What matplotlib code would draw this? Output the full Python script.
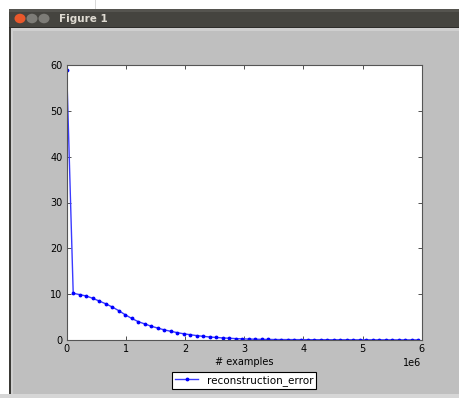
import matplotlib
matplotlib.use("Agg")
import matplotlib.pyplot as plt
from matplotlib.patches import Rectangle, Circle

# training progress: examples seen (millions) vs reconstruction error
step = 0.11
n_points = 55
examples = [k * step * 1e6 for k in range(n_points)]
recon_error = [59.0, 10.2, 9.9, 9.6, 9.1, 8.5, 7.9, 7.2, 6.4, 5.5,
               4.7, 4.0, 3.5, 3.0, 2.6, 2.2, 1.9, 1.6, 1.35, 1.15,
               0.95, 0.8, 0.65, 0.55, 0.45, 0.38, 0.3, 0.25, 0.2, 0.17,
               0.14, 0.12, 0.1, 0.09, 0.085, 0.08, 0.075, 0.07, 0.065, 0.06,
               0.055, 0.05, 0.048, 0.045, 0.042, 0.04, 0.038, 0.036, 0.034, 0.032,
               0.03, 0.028, 0.026, 0.025, 0.024]

W, H = 459, 398
fig = plt.figure(figsize=(W / 100, H / 100), dpi=100, facecolor="#bfbfbf")


def box(x0, y0, x1, y1, color):
    # pixel coords (top-left origin) -> figure fraction
    fig.add_artist(Rectangle((x0 / W, 1 - y1 / H), (x1 - x0) / W, (y1 - y0) / H,
                             transform=fig.transFigure, facecolor=color,
                             edgecolor="none", zorder=-5))


# fake window chrome
box(0, 0, W, 9, "white")
box(0, 0, 9, H, "white")
box(95, 0, 96, 9, "#d8d8d8")
box(9, 9, W, 28, "#45443f")
box(9, 9, W, 12, "#55544f")
box(9, 27, W, 28, "#2e2d2a")
box(9, 28, 11, H, "#3a3935")
box(11, 28, W, 31, "#cfcfcf")
box(11, 28, 13, H, "#cfcfcf")
box(0, 394, W, H, "#d6d6d6")
for cx, col in [(20, "#e9582b"), (32, "#7d7c77"), (44, "#7d7c77")]:
    fig.add_artist(Circle((cx / W, 1 - 18.5 / H), 5.5 / W, transform=fig.transFigure,
                          facecolor=col, edgecolor="none"))
fig.text(59 / W, 1 - 18.5 / H, "Figure 1", color="#dfdbd2", fontsize=7.5,
         fontweight="bold", va="center", ha="left")

ax = fig.add_axes([66.7 / W, 1 - 340 / H, 355 / W, 275 / H])
line, = ax.plot(examples, recon_error, ".-", color="#3a3aff", markersize=3.5,
                linewidth=1, markerfacecolor="#0000ff", markeredgecolor="#0000ff",
                label="reconstruction_error")
ax.set_xlim(0, 6e6)
ax.set_ylim(0, 60)
ax.set_xticks([0, 1e6, 2e6, 3e6, 4e6, 5e6, 6e6])
ax.set_yticks([0, 10, 20, 30, 40, 50, 60])
ax.tick_params(direction="in", top=True, right=True, labelsize=7, length=3,
               width=0.6, pad=3, colors="#333333", labelcolor="black")
ax.xaxis.get_offset_text().set_fontsize(7)
for s in ax.spines.values():
    s.set_color("#555555")
    s.set_linewidth(0.8)
ax.set_xlabel("# examples", fontsize=7, labelpad=2)
leg = ax.legend(loc="upper center", bbox_to_anchor=(0.5, -0.115), borderaxespad=0,
                fontsize=7.5, fancybox=False, framealpha=1, edgecolor="black",
                handlelength=2.2, borderpad=0.3)
leg.get_frame().set_linewidth(0.8)

fig.savefig("out.png", dpi=100, facecolor=fig.get_facecolor())
